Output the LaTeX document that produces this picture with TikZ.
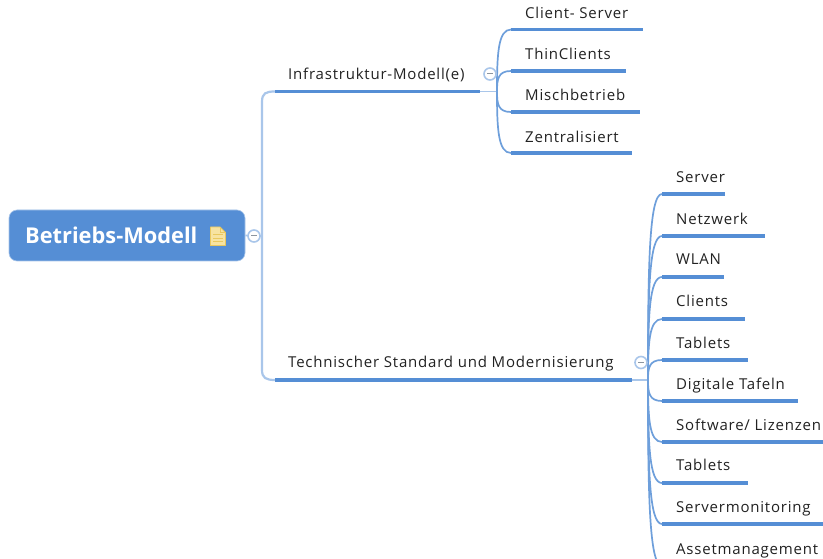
\documentclass[tikz,border=0pt]{standalone}
\usepackage{fontspec}
\setmainfont{Open Sans}[LetterSpace=5.3]
\newfontfamily\rootfont{Open Sans}
\definecolor{mainblue}{HTML}{558ED5}
\definecolor{lightblue}{HTML}{A9C6EA}
\definecolor{notefill}{HTML}{F7E3A1}
\definecolor{noteline}{HTML}{E9C85E}
\definecolor{txt}{HTML}{222222}
\tikzset{
  label text/.style={anchor=base west,inner sep=0pt,text=txt,font=\fontsize{15}{17}\selectfont},
  underline/.style={draw=mainblue,line width=3.4pt},
  stem/.style={draw=lightblue,line width=1.6pt},
  twig/.style={draw=mainblue!85!white,line width=1.7pt},
  trunk/.style={draw=lightblue,line width=2.2pt},
  collapse/.style={circle,draw=lightblue,line width=1.6pt,fill=white,minimum size=12pt,inner sep=0pt},
  rootbox/.style={rounded corners=8pt,fill=mainblue,draw=lightblue,line width=0.6pt}
}
% name, text, text x, baseline, line start x, line y, line end x, junction
\newcommand{\leafitem}[8]{%
  \node[label text] (#1) at (#3,#4) {#2};
  \coordinate (#1s) at (#5,#6);
  \coordinate (#1e) at (#7,#6);
  \draw[twig] (#8) .. controls ($(#8)!0.6!(#8|-#1s)$) and ($(#8|-#1s)+(1,0)$) .. (#1s);
  \draw[underline] (#1s) -- (#1e);
}
\usetikzlibrary{calc}
\begin{document}
\begin{tikzpicture}[x=1pt,y=-1pt]
\useasboundingbox (0,0) rectangle (823,559);
\clip (0,0) rectangle (823,559);
\fill[white] (0,0) rectangle (823,559);

% main branches
\coordinate (hub) at (262,236);
\coordinate (j1) at (497,91.5);
\coordinate (j2) at (648,380);
\coordinate (b1s) at (275,91.5);
\coordinate (b1e) at (480,91.5);
\coordinate (b2s) at (275,380);
\coordinate (b2e) at (632,380);
\draw[trunk] (b1s) .. controls (266,91.5) and (262,93) .. (262,102) -- (hub) -- (262,370) .. controls (262,378) and (266,380) .. (b2s);
\draw[underline] (b1s) -- (b1e);
\draw[underline] (b2s) -- (b2e);
\draw[stem] (b1e) -- (j1);
\draw[stem] (b2e) -- (j2);

% level 2
\leafitem{a1}{Client- Server}{525}{19}{511}{29.5}{643}{j1}
\leafitem{a2}{ThinClients}{525}{59.5}{511}{71}{626}{j1}
\leafitem{a3}{Mischbetrieb}{525}{101}{511}{112}{640}{j1}
\leafitem{a4}{Zentralisiert}{525}{142.5}{511}{153}{632}{j1}

% level 3
\leafitem{c1}{Server}{676}{183}{662}{194}{725}{j2}
\leafitem{c2}{Netzwerk}{676}{224.5}{662}{236}{765}{j2}
\leafitem{c3}{WLAN}{676}{265}{662}{277}{724}{j2}
\leafitem{c4}{Clients}{676}{306}{662}{319}{745}{j2}
\leafitem{c5}{Tablets}{676}{348}{662}{360}{748}{j2}
\leafitem{c6}{Digitale Tafeln}{676}{389}{662}{401}{798}{j2}
\leafitem{c7}{Software/ Lizenzen}{676}{430}{662}{442}{830}{j2}
\leafitem{c8}{Tablets}{676}{470}{662}{483}{748}{j2}
\leafitem{c9}{Servermonitoring}{676}{512}{662}{524}{830}{j2}
\leafitem{c10}{Assetmanagement}{676}{554}{662}{566}{830}{j2}

% branch labels
\node[label text] (b1) at (288,80) {Infrastruktur-Modell(e)};
\node[label text] (b2) at (288,367) {Technischer Standard und Modernisierung};

% root
\node[rootbox,minimum width=236pt,minimum height=51pt,inner sep=0pt] (root) at (127,235.5) {};
\node[anchor=base west,inner sep=0pt,text=white,font=\rootfont\fontsize{21.8}{24}\selectfont\bfseries] (roottext) at (25,243.5) {Betriebs-Modell};
\draw[fill=notefill,draw=noteline,line width=0.8pt,line join=round] (210.5,227) -- (220,227) -- (225.5,232.5) -- (225.5,245.5) -- (210.5,245.5) -- cycle;
\draw[noteline,line width=1pt] (213,235) -- (223,235) (213,238.5) -- (223,238.5) (213,242) -- (223,242) (220,227) -- (220,232.5) -- (225.5,232.5);

% collapse buttons
\draw[stem] (root.east) -- (hub);
\node[collapse] (m0) at (254,236) {};
\node[collapse] (m1) at (490,74) {};
\node[collapse] (m2) at (641,362.5) {};
\foreach \m in {m0,m1,m2} \draw[gray!70!lightblue,line width=1pt] ($(\m)+(-3,0)$) -- ($(\m)+(3,0)$);
\end{tikzpicture}
\end{document}
